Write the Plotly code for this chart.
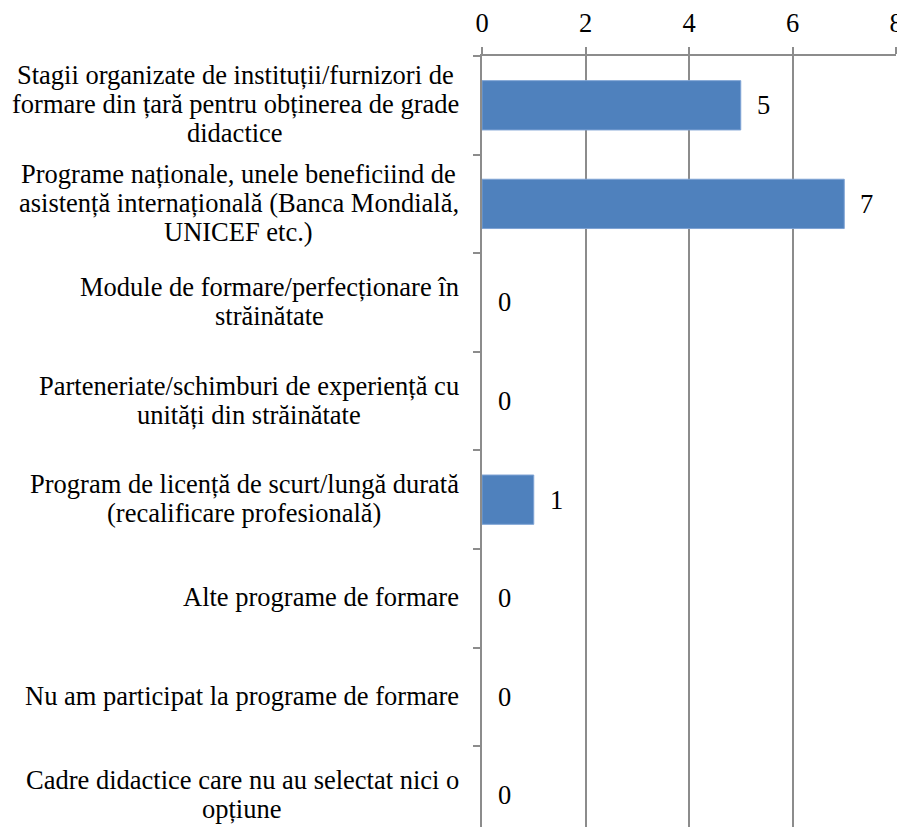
import plotly.graph_objects as go

categories = [
    "Stagii organizate de instituții/furnizori de<br>formare din țară pentru obținerea de grade<br>didactice",
    "Programe naționale, unele beneficiind de<br>asistență internațională (Banca Mondială,<br>UNICEF etc.)",
    "Module de formare/perfecționare în<br>străinătate",
    "Parteneriate/schimburi de experiență cu<br>unități din străinătate",
    "Program de licență de scurt/lungă durată<br>(recalificare profesională)",
    "Alte programe de formare",
    "Nu am participat la programe de formare",
    "Cadre didactice care nu au selectat nici o<br>opțiune",
]
values = [5, 7, 0, 0, 1, 0, 0, 0]
x_ticks = [0, 2, 4, 6, 8]

FONT = "Liberation Serif, Times New Roman, serif"
GRID = "#8c8c8c"
LABEL_SIZE = 26.5
LINE_GAP = 29

# Times / Liberation Serif advance widths (1/1000 em) used to centre wrapped lines
_W = {" ": 250, "a": 444, "b": 500, "c": 444, "d": 500, "e": 444, "f": 333,
      "g": 500, "h": 500, "i": 278, "j": 278, "k": 500, "l": 278, "m": 778,
      "n": 500, "o": 500, "p": 500, "q": 500, "r": 333, "s": 389, "t": 278,
      "u": 500, "v": 500, "w": 722, "x": 500, "y": 500, "z": 444, "ă": 444,
      "â": 444, "î": 278, "ș": 389, "ț": 278, "A": 722, "B": 667, "C": 667,
      "D": 722, "E": 611, "F": 556, "I": 333, "M": 889, "N": 722, "P": 556,
      "S": 556, "U": 722, "/": 278, "(": 333, ")": 333, ",": 250, ".": 250}


def text_width(s, size):
    return sum(_W.get(ch, 500) for ch in s) / 1000.0 * size


fig = go.Figure()
fig.add_trace(go.Bar(
    x=values, y=categories, orientation="h",
    marker=dict(color="#4f81bd",
                line=dict(color="#7ea3d4", width=[1 if v > 0 else 0 for v in values])),
    width=0.5, hoverinfo="skip",
))

for c, v in zip(categories, values):
    fig.add_annotation(x=v, y=c, xref="x", yref="y", text=str(v),
                       showarrow=False, xanchor="left", yanchor="middle",
                       xshift=14, font=dict(family=FONT, size=LABEL_SIZE, color="black"))
    lines = c.split("<br>")
    n = len(lines)
    block_w = max(text_width(ln, LABEL_SIZE) for ln in lines)
    for i, ln in enumerate(lines):
        fig.add_annotation(x=0, y=c, xref="x", yref="y", text=ln,
                           showarrow=False, xanchor="center", yanchor="middle",
                           xshift=-23 - block_w / 2,
                           yshift=((n - 1) / 2 - i) * LINE_GAP + 1,
                           font=dict(family=FONT, size=LABEL_SIZE, color="black"))

fig.update_layout(
    width=897, height=819,
    margin=dict(l=474, r=9, t=48, b=0, pad=0, autoexpand=False),
    paper_bgcolor="white", plot_bgcolor="white",
    showlegend=False,
    font=dict(family=FONT, size=LABEL_SIZE, color="black"),
    xaxis=dict(side="top", range=[0, 8], tickvals=x_ticks, showgrid=True,
               gridcolor=GRID, gridwidth=1.5, showline=True, linecolor=GRID,
               linewidth=1.5, ticks="outside", ticklen=7, tickcolor=GRID,
               tickwidth=1.5, zeroline=False, automargin=False,
               ticklabeloverflow="allow", ticklabelstandoff=5,
               tickfont=dict(family=FONT, size=LABEL_SIZE, color="black")),
    yaxis=dict(type="category", categoryarray=categories, range=[7.32, -0.5],
               showticklabels=False, showline=True, linecolor=GRID,
               linewidth=2, ticks="outside", tickson="boundaries",
               ticklen=7, tickcolor=GRID, tickwidth=1.5, showgrid=False,
               automargin=False),
)

fig.write_html("out.html")
